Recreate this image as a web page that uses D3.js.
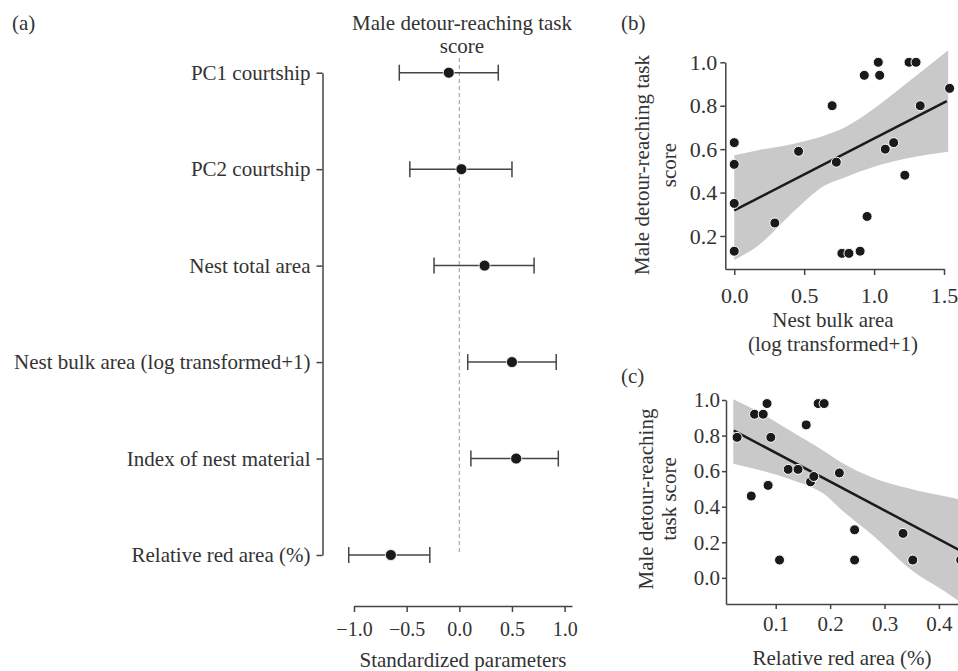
<!DOCTYPE html>
<html>
<head>
<meta charset="utf-8">
<script src="https://cdn.jsdelivr.net/npm/d3@7"></script>
<style>
  body { margin: 0; background: #fff; }
  svg { display: block; }
  text { fill: #333; font-family: "Liberation Serif", "Times New Roman", serif; }
</style>
</head>
<body>
<svg width="958" height="671"></svg>
<script>
// panel (a): standardized estimates with 95% CI
const params = ['PC1 courtship', 'PC2 courtship', 'Nest total area',
  'Nest bulk area (log transformed+1)', 'Index of nest material', 'Relative red area (%)']
const estimate = [-0.10, 0.02, 0.24, 0.50, 0.54, -0.65]
const ciLow = [-0.57, -0.47, -0.24, 0.08, 0.11, -1.05]
const ciHigh = [0.37, 0.50, 0.71, 0.92, 0.94, -0.28]
const paramTicks = [-1.0, -0.5, 0.0, 0.5, 1.0]

// panel (b): nest bulk area vs score
const bulkX = [0.00, 0.00, 0.00, 0.00, 0.29, 0.46, 0.70, 0.73, 0.77, 0.82, 0.90, 0.95,
  0.93, 1.03, 1.04, 1.08, 1.14, 1.22, 1.25, 1.30, 1.33, 1.54]
const bulkY = [0.63, 0.53, 0.35, 0.13, 0.26, 0.59, 0.80, 0.54, 0.12, 0.12, 0.13, 0.29,
  0.94, 1.00, 0.94, 0.60, 0.63, 0.48, 1.00, 1.00, 0.80, 0.88]
const bulkFit = [[0.0, 0.318], [1.52, 0.821]]
const bulkBandX = [0.0, 0.17, 0.41, 0.65, 0.79, 1.0, 1.23, 1.53]
const bulkBandLo = [0.09, 0.155, 0.304, 0.434, 0.47, 0.519, 0.557, 0.588]
const bulkBandHi = [0.572, 0.595, 0.623, 0.664, 0.70, 0.787, 0.902, 1.055]

// panel (c): relative red area vs score
const redX = [0.029, 0.055, 0.061, 0.077, 0.084, 0.086, 0.091, 0.107, 0.123, 0.141, 0.156,
  0.164, 0.170, 0.178, 0.189, 0.217, 0.245, 0.245, 0.334, 0.352, 0.44, 0.445]
const redY = [0.79, 0.46, 0.92, 0.92, 0.98, 0.52, 0.79, 0.10, 0.61, 0.61, 0.86,
  0.54, 0.57, 0.98, 0.98, 0.59, 0.27, 0.10, 0.25, 0.10, 0.10, 0.32]
const redFit = [[0.023, 0.828], [0.46, 0.12]]
const redBandX = [0.022, 0.068, 0.129, 0.19, 0.22, 0.28, 0.34, 0.44, 0.47]
const redBandLo = [0.642, 0.608, 0.552, 0.468, 0.385, 0.235, 0.067, -0.14, -0.22]
const redBandHi = [1.004, 0.934, 0.823, 0.711, 0.65, 0.562, 0.506, 0.44, 0.42]

const svg = d3.select('svg')
const ink = '#1a1a1a'
const serif = '"Liberation Serif", "Times New Roman", serif'

function styleAxis (g) {
  g.attr('font-family', serif)
  g.select('.domain').attr('stroke', '#444').attr('stroke-width', 1.5)
  g.selectAll('.tick line').attr('stroke', '#444').attr('stroke-width', 1.5)
  g.selectAll('.tick text').attr('fill', '#333').attr('font-family', serif)
}

function label (x, y, txt, anchor, rotate) {
  const t = svg.append('text').attr('font-size', 21).attr('font-family', serif)
    .attr('text-anchor', anchor || 'middle').text(txt)
  if (rotate) t.attr('transform', 'translate(' + x + ',' + y + ') rotate(-90)')
  else t.attr('x', x).attr('y', y)
  return t
}

// ---------- panel (a) ----------
const xa = d3.scaleLinear().domain([-1.0, 1.07]).range([354, 572])
const ya = d3.scalePoint().domain(params).range([72.7, 555])

label(12, 30, '(a)', 'start')

svg.append('g').attr('transform', 'translate(322.5,0)')
  .call(d3.axisLeft(ya).tickSize(6).tickPadding(6).tickSizeOuter(0))
  .attr('font-size', 21)
  .call(styleAxis)

svg.append('g').attr('transform', 'translate(0,606)')
  .call(d3.axisBottom(xa).tickValues(paramTicks).tickFormat(d3.format('.1f'))
    .tickSize(6).tickPadding(10).tickSizeOuter(0))
  .attr('font-size', 20)
  .call(styleAxis)

svg.append('line')
  .attr('x1', xa(0)).attr('x2', xa(0)).attr('y1', 58).attr('y2', 555)
  .attr('stroke', '#999').attr('stroke-width', 1).attr('stroke-dasharray', '4,3')

const bars = svg.append('g')
params.forEach(function (p, i) {
  const y = ya(p)
  bars.append('line').attr('x1', xa(ciLow[i])).attr('x2', xa(ciHigh[i]))
    .attr('y1', y).attr('y2', y).attr('stroke', '#444').attr('stroke-width', 1.5)
  ;[ciLow[i], ciHigh[i]].forEach(function (v) {
    bars.append('line').attr('x1', xa(v)).attr('x2', xa(v))
      .attr('y1', y - 8).attr('y2', y + 8).attr('stroke', '#444').attr('stroke-width', 1.5)
  })
  bars.append('circle').attr('cx', xa(estimate[i])).attr('cy', y).attr('r', 5.5)
    .attr('fill', ink).attr('stroke', '#fff').attr('stroke-width', 0.8)
})

label(462, 30, 'Male detour-reaching task')
label(462, 53, 'score')
label(463, 667, 'Standardized parameters')

// ---------- scatter helper ----------
function scatter (opt) {
  const g = svg.append('g')
  const area = d3.area()
    .x(function (d) { return opt.x(d[0]) })
    .y0(function (d) { return opt.y(d[1]) })
    .y1(function (d) { return opt.y(d[2]) })
    .curve(d3.curveMonotoneX)
  const band = opt.bandX.map(function (v, i) { return [v, opt.bandLo[i], opt.bandHi[i]] })
  g.append('path').datum(band).attr('d', area).attr('fill', '#c9c9c9')

  g.append('path').datum(opt.fit)
    .attr('d', d3.line().x(function (d) { return opt.x(d[0]) }).y(function (d) { return opt.y(d[1]) }))
    .attr('stroke', ink).attr('stroke-width', 2.5).attr('fill', 'none')

  g.selectAll('circle').data(opt.xs).enter().append('circle')
    .attr('cx', function (d) { return opt.x(d) })
    .attr('cy', function (d, i) { return opt.y(opt.ys[i]) })
    .attr('r', 5)
    .attr('fill', ink).attr('stroke', '#fff').attr('stroke-width', 1)
}

// ---------- panel (b) ----------
const xb = d3.scaleLinear().domain([-0.064, 1.5]).range([725.3, 944])
const yb = d3.scaleLinear().domain([0.048, 1.0]).range([269, 62.3])

label(621, 30, '(b)', 'start')

scatter({ x: xb, y: yb, xs: bulkX, ys: bulkY, fit: bulkFit,
  bandX: bulkBandX, bandLo: bulkBandLo, bandHi: bulkBandHi })

svg.append('g').attr('transform', 'translate(725.3,0)')
  .call(d3.axisLeft(yb).tickValues([0.2, 0.4, 0.6, 0.8, 1.0]).tickFormat(d3.format('.1f'))
    .tickSize(5).tickPadding(3).tickSizeOuter(0))
  .attr('font-size', 22)
  .call(styleAxis)
svg.append('g').attr('transform', 'translate(0,269)')
  .call(d3.axisBottom(xb).tickValues([0.0, 0.5, 1.0, 1.5]).tickFormat(d3.format('.1f'))
    .tickSize(6).tickPadding(12).tickSizeOuter(0))
  .attr('font-size', 22)
  .call(styleAxis)

label(649, 165, 'Male detour-reaching task', 'middle', true)
label(676, 165, 'score', 'middle', true)
label(833, 327, 'Nest bulk area')
label(833, 351, '(log transformed+1)')

// ---------- panel (c) ----------
const xc = d3.scaleLinear().domain([0.0086, 0.5]).range([726, 993.3])
const yc = d3.scaleLinear().domain([-0.147, 1.0]).range([604, 400])

label(621, 383, '(c)', 'start')

scatter({ x: xc, y: yc, xs: redX, ys: redY, fit: redFit,
  bandX: redBandX, bandLo: redBandLo, bandHi: redBandHi })

svg.append('g').attr('transform', 'translate(726,0)')
  .call(d3.axisLeft(yc).tickValues([0.0, 0.2, 0.4, 0.6, 0.8, 1.0]).tickFormat(d3.format('.1f'))
    .tickSize(4).tickPadding(2).tickSizeOuter(0))
  .attr('font-size', 21)
  .call(styleAxis)
svg.append('g').attr('transform', 'translate(0,604)')
  .call(d3.axisBottom(xc).tickValues([0.1, 0.2, 0.3, 0.4]).tickFormat(d3.format('.1f'))
    .tickSize(5).tickPadding(7).tickSizeOuter(0))
  .attr('font-size', 21)
  .call(styleAxis)

label(653, 499, 'Male detour-reaching', 'middle', true)
label(676, 499, 'task score', 'middle', true)
label(842, 665, 'Relative red area (%)')
</script>
</body>
</html>
